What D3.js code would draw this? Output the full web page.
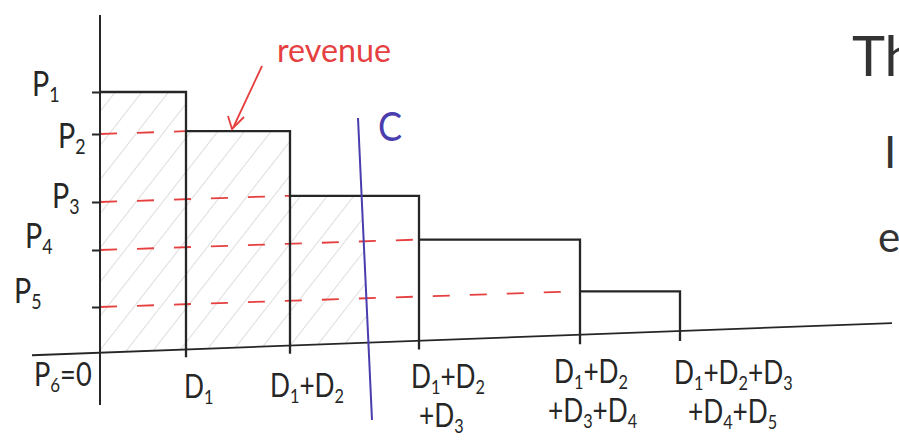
<!DOCTYPE html>
<html>
<head>
<meta charset="utf-8">
<script src="https://cdn.jsdelivr.net/npm/d3@7"></script>
<style>
  html, body { margin: 0; padding: 0; background: #fff; }
  svg { display: block; }
  text { font-family: Lato, "Open Sans", sans-serif; }
</style>
</head>
<body>
<svg id="chart" width="899" height="444"></svg>
<script>
// ---- data ----
const quantities = [86, 104, 129, 161, 100];          // D1..D5
const prices = [260, 218, 150, 102, 45];               // P1..P5
const priceLabels = ["P_1", "P_2", "P_3", "P_4", "P_5"];
const zeroLabel = "P_6=0";
const capacity = 265;                                  // C (quantity)
const capacityLabel = "C";
const quantityLabels = [
  ["D_1"],
  ["D_1+D_2"],
  ["D_1+D_2", "+D_3"],
  ["D_1+D_2", "+D_3+D_4"],
  ["D_1+D_2+D_3", "+D_4+D_5"]
];
const annotation = "revenue";
const sideText = ["The", "I", "e"];

// ---- layout ----
const svg = d3.select("#chart");
const cum = d3.cumsum(quantities);
const qMax = cum[cum.length - 1];
const x = d3.scaleLinear().domain([0, qMax]).range([100, 680]);
const y = d3.scaleLinear().domain([0, prices[0]]).range([352, 92]);
// the paper is slightly tilted: vertical drift as function of horizontal position
const tilt = d3.scaleLinear().domain([0, qMax]).range([0, -19]);
const drift = px => tilt(x.invert(px));
const baseY = px => y(0) + drift(px);

const black = "#262626", red = "#e5403f", blue = "#4a3dae";

// text with subscripts written as X_n
function richText(sel, str, size) {
  const parts = str.split(/(_\d)/).filter(s => s.length);
  let shift = 0;
  parts.forEach(p => {
    if (p[0] === "_") {
      sel.append("tspan").attr("font-size", size * 0.62).attr("dy", size * 0.18 - shift).text(p.slice(1));
      shift = size * 0.18;
    } else {
      sel.append("tspan").attr("dy", -shift).text(p);
      shift = 0;
    }
  });
}
function scaledText(px, py, sx, size, color) {
  return svg.append("text")
    .attr("transform", `translate(${px},${py}) scale(${sx},1)`)
    .attr("font-size", size).attr("fill", color);
}

// hatch pattern
const defs = svg.append("defs");
const pat = defs.append("pattern").attr("id", "hatch")
  .attr("patternUnits", "userSpaceOnUse").attr("width", 21).attr("height", 21)
  .attr("patternTransform", "rotate(38)");
pat.append("line").attr("x1", 0).attr("y1", 0).attr("x2", 0).attr("y2", 21)
  .attr("stroke", "#c2c2c2").attr("stroke-width", 1.1);

// C line geometry
const cTop = [x(capacity) - 7, 118], cBot = [x(capacity) + 7, 420];
const cxAt = yy => cTop[0] + (cBot[0] - cTop[0]) * (yy - cTop[1]) / (cBot[1] - cTop[1]);

// bar tops
const bars = quantities.map((d, i) => {
  const q0 = i === 0 ? 0 : cum[i - 1], q1 = cum[i];
  return { q0, q1, top: y(prices[i]) + tilt(q0) };
});

// hatched revenue region (left of C)
const poly = [[x(0), baseY(x(0))], [x(0), bars[0].top]];
for (const b of bars) {
  const xr = x(b.q1);
  const xc = cxAt(b.top);
  poly.push([x(b.q0), b.top]);
  if (xr < xc) { poly.push([xr, b.top]); }
  else { poly.push([xc, b.top]); break; }
}
const yb = baseY(x(capacity));
poly.push([cxAt(yb), yb]);
svg.append("path").attr("d", "M" + poly.map(p => p.join(",")).join("L") + "Z")
  .attr("fill", "url(#hatch)");

// red dashed price lines
prices.forEach((p, i) => {
  if (i === 0) return;
  const qe = cum[i - 1];
  svg.append("line")
    .attr("x1", x(0)).attr("y1", y(p))
    .attr("x2", x(qe)).attr("y2", y(p) + tilt(qe))
    .attr("stroke", red).attr("stroke-width", 1.8)
    .attr("stroke-dasharray", "17,20");
});

// baseline (quantity axis)
svg.append("line").attr("x1", 32).attr("y1", baseY(32) + 1).attr("x2", 892).attr("y2", baseY(892) - 3)
  .attr("stroke", black).attr("stroke-width", 1.8);

// price axis
const yAxis = d3.axisLeft(y).tickValues(prices).tickSize(8).tickFormat("");
const ga = svg.append("g").attr("transform", `translate(${x(0)},0)`).call(yAxis);
ga.select(".domain").remove();
ga.selectAll(".tick line").attr("stroke", black).attr("stroke-width", 2);
svg.append("line").attr("x1", x(0)).attr("y1", 15).attr("x2", x(0)).attr("y2", 405)
  .attr("stroke", black).attr("stroke-width", 2);

// bars (step outline)
bars.forEach(b => {
  const xr = x(b.q1);
  svg.append("path")
    .attr("d", `M${x(b.q0)},${b.top}H${xr}V${baseY(xr) + 8}`)
    .attr("fill", "none").attr("stroke", black).attr("stroke-width", 2.3);
});

// capacity line
svg.append("line").attr("x1", cTop[0]).attr("y1", cTop[1]).attr("x2", cBot[0]).attr("y2", cBot[1])
  .attr("stroke", blue).attr("stroke-width", 2);
scaledText(378, 141, 0.9, 40, blue).text(capacityLabel);

// price labels
const pLabelX = [32, 58, 52, 25, 14];
const pLabelDy = [4, 14, 6, -2, -4];
priceLabels.forEach((l, i) => {
  const t = scaledText(pLabelX[i], y(prices[i]) + pLabelDy[i], 0.82, 35, black);
  richText(t, l, 35);
});
richText(scaledText(34, 386, 0.85, 32, black), zeroLabel, 32);

// quantity labels
const qDx = [-2, -20, -8, -26, -6];
const qDx2 = [0, 0, 8, -6, 14];
const qLine1 = [398, 397, 388, 383, 384];
quantityLabels.forEach((lines, i) => {
  lines.forEach((l, j) => {
    const t = scaledText(x(cum[i]) + qDx[i] + (j ? qDx2[i] : 0), qLine1[i] + j * 39, 0.82, 32, black);
    richText(t, l, 32);
  });
});

// revenue annotation
svg.append("text").attr("x", 277).attr("y", 62).attr("font-size", 32).attr("fill", red)
  .attr("textLength", 114).attr("lengthAdjust", "spacingAndGlyphs").text(annotation);
svg.append("path").attr("d", "M262,66 Q248,96 233,128").attr("fill", "none")
  .attr("stroke", red).attr("stroke-width", 1.8);
svg.append("path").attr("d", "M228,116 L232,129 L244,117").attr("fill", "none")
  .attr("stroke", red).attr("stroke-width", 1.8);

// cut-off handwriting on the right edge
svg.append("text").attr("x", 852).attr("y", 76).attr("font-size", 56).attr("fill", "#333").text(sideText[0]);
svg.append("text").attr("x", 884).attr("y", 168).attr("font-size", 44).attr("fill", "#333").text(sideText[1]);
svg.append("text").attr("x", 878).attr("y", 252).attr("font-size", 42).attr("fill", "#333").text(sideText[2]);
</script>
</body>
</html>
